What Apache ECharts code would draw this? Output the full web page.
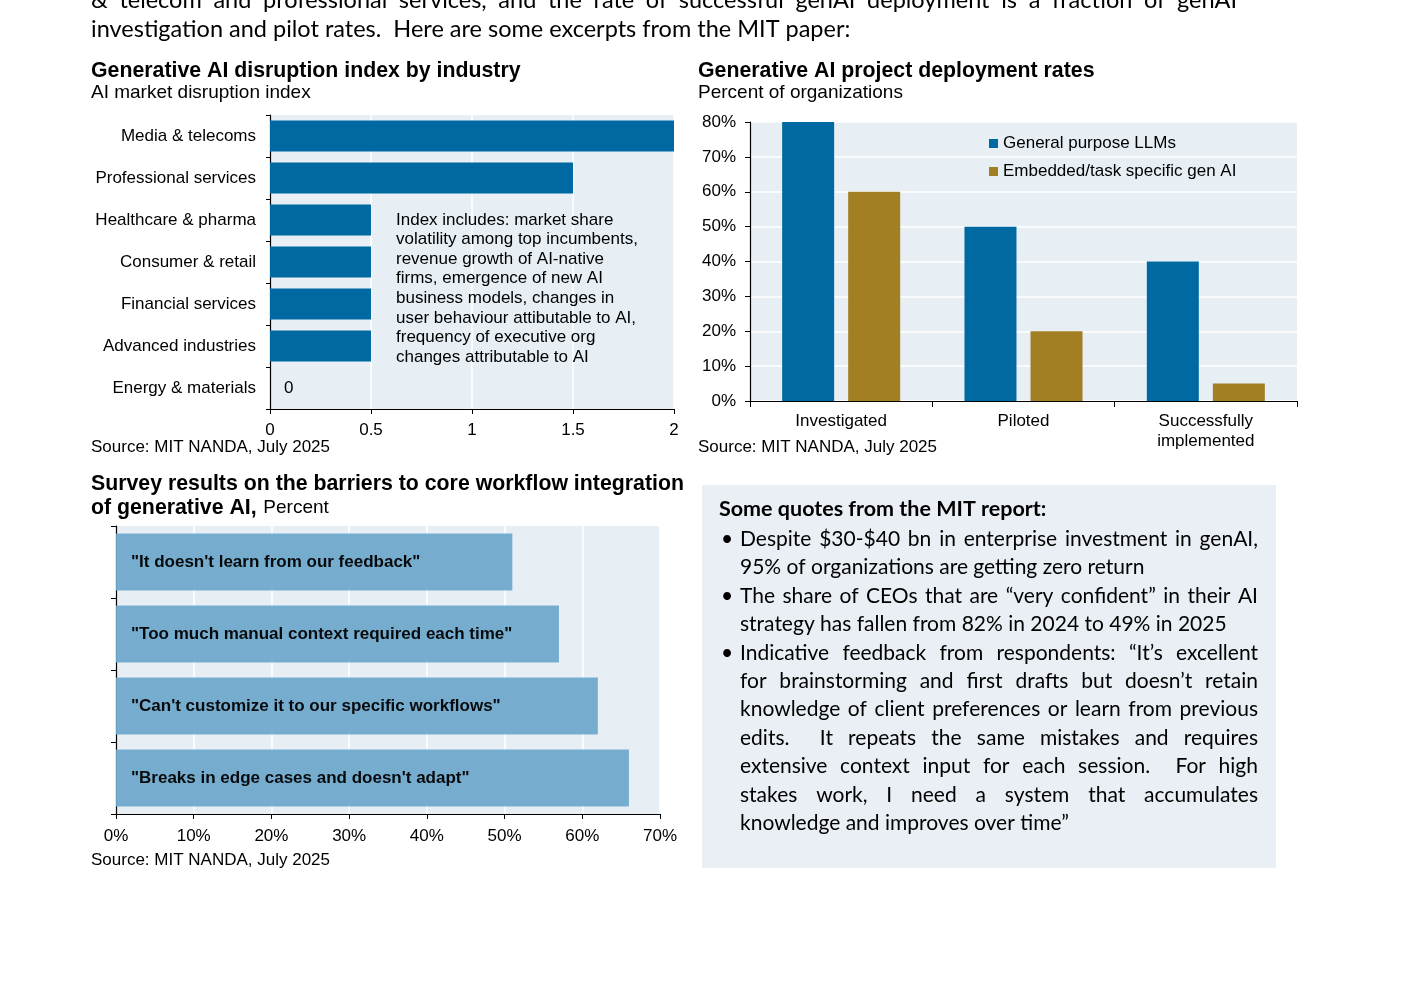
<!doctype html>
<html>
<head>
  <meta charset="utf-8">
  <script src="https://cdn.jsdelivr.net/npm/echarts@6/dist/echarts.min.js"></script>
  <style>
    html, body { margin: 0; padding: 0; background: #fff; }
    #chart { width: 1401px; height: 985px; }
  </style>
</head>
<body>
<div id="chart"></div>
<script type="text/javascript">
  // chart 1: disruption index by industry
  var industries = ['Media & telecoms', 'Professional services', 'Healthcare & pharma', 'Consumer & retail',
    'Financial services', 'Advanced industries', 'Energy & materials'];
  var disruptionIndex = [2, 1.5, 0.5, 0.5, 0.5, 0.5, 0];

  // chart 2: deployment rates
  var stages = ['Investigated', 'Piloted', 'Successfully\nimplemented'];
  var generalLLM = [80, 50, 40];
  var embeddedAI = [60, 20, 5];

  // chart 3: barriers survey
  var barriers = ['"It doesn\'t learn from our feedback"', '"Too much manual context required each time"',
    '"Can\'t customize it to our specific workflows"', '"Breaks in edge cases and doesn\'t adapt"'];
  var barrierPct = [51, 57, 62, 66];

  var ARIAL = '"Liberation Sans", Arial, sans-serif';
  var BODY = 'Lato, "Open Sans", sans-serif';
  var bg = '#e7eff5';
  var blue = '#0069a1';
  var gold = '#a37f24';
  var lightBlue = '#6fa9cc';

  var measureCtx = document.createElement('canvas').getContext('2d');
  function textWidth(s, font) {
    measureCtx.font = font;
    return measureCtx.measureText(s).width;
  }

  function txt(s, x, y, font, extra) {
    var el = { type: 'text', x: x, y: y, z: 100, style: { text: s, font: font, fill: '#000', verticalAlign: 'middle' } };
    if (extra) for (var k in extra) el.style[k] = extra[k];
    return el;
  }

  // word-style justified line: spread the words between x0 and x1
  function justify(line, x0, x1, y, font) {
    var words = line.split(' ');
    var widths = words.map(function (w) { return textWidth(w, font); });
    var total = widths.reduce(function (a, b) { return a + b; }, 0);
    var gap = (x1 - x0 - total) / (words.length - 1);
    var x = x0, out = [];
    for (var i = 0; i < words.length; i++) {
      if (words[i]) out.push(txt(words[i], x, y, font));
      x += widths[i] + gap;
    }
    return out;
  }

  var bodyFont = '23.5px ' + BODY;
  var quoteFont = '21px ' + BODY;
  var titleFont = 'bold 21.3px ' + ARIAL;
  var subFont = '19px ' + ARIAL;
  var smallFont = '17px ' + ARIAL;

  var graphics = [];
  graphics = graphics.concat(justify('& telecom and professional services, and the rate of successful genAI deployment is a fraction of genAI', 91, 1237, 0, bodyFont));
  graphics.push(txt('investigation and pilot rates.  Here are some excerpts from the MIT paper:', 91, 29, bodyFont));

  graphics.push(txt('Generative AI disruption index by industry', 91, 71, titleFont));
  graphics.push(txt('AI market disruption index', 91, 93, subFont));
  graphics.push(txt('Source: MIT NANDA, July 2025', 91, 447, smallFont));

  var noteLines = ['Index includes: market share', 'volatility among top incumbents,', 'revenue growth of AI-native',
    'firms, emergence of new AI', 'business models, changes in', 'user behaviour attibutable to AI,',
    'frequency of executive org', 'changes attributable to AI'];
  noteLines.forEach(function (l, i) { graphics.push(txt(l, 396, 220 + i * 19.6, smallFont)); });

  graphics.push(txt('Generative AI project deployment rates', 698, 71, titleFont));
  graphics.push(txt('Percent of organizations', 698, 93, subFont));
  graphics.push(txt('Source: MIT NANDA, July 2025', 698, 447, smallFont));

  graphics.push(txt('Survey results on the barriers to core workflow integration', 91, 484, titleFont));
  graphics.push({
    type: 'text', x: 91, y: 508, z: 100,
    style: {
      text: '{b|of generative AI,}  {n|Percent}', verticalAlign: 'middle', fill: '#000',
      rich: { b: { font: titleFont, fill: '#000' }, n: { font: subFont, fill: '#000' } }
    }
  });
  graphics.push(txt('Source: MIT NANDA, July 2025', 91, 860, smallFont));

  // quotes box
  graphics.push({ type: 'rect', shape: { x: 702, y: 485, width: 574, height: 383 }, style: { fill: '#e9eff4' }, z: -1 });
  graphics.push(txt('Some quotes from the MIT report:', 719, 509, 'bold 21.5px ' + BODY));
  var qy = [539, 567, 596, 624, 653, 681, 709, 738, 766, 795, 823];
  var quoteLines = [
    ['Despite $30-$40 bn in enterprise investment in genAI,', true, true],
    ['95% of organizations are getting zero return', false, false],
    ['The share of CEOs that are \u201cvery confident\u201d in their AI', true, true],
    ['strategy has fallen from 82% in 2024 to 49% in 2025', false, false],
    ['Indicative feedback from respondents: \u201cIt\u2019s excellent', true, true],
    ['for brainstorming and first drafts but doesn\u2019t retain', false, true],
    ['knowledge of client preferences or learn from previous', false, true],
    ['edits.  It repeats the same mistakes and requires', false, true],
    ['extensive context input for each session.  For high', false, true],
    ['stakes work, I need a system that accumulates', false, true],
    ['knowledge and improves over time\u201d', false, false]
  ];
  quoteLines.forEach(function (q, i) {
    if (q[1]) graphics.push(txt('\u2022', 721, qy[i], quoteFont));
    if (q[2]) graphics = graphics.concat(justify(q[0], 740, 1258, qy[i], quoteFont));
    else graphics.push(txt(q[0], 740, qy[i], quoteFont));
  });

  var axisBlack = { show: true, lineStyle: { color: '#000', width: 1.2 } };
  var labelStyle = { color: '#000', fontSize: 17, fontFamily: ARIAL };

  var myChart = echarts.init(document.getElementById('chart'));
  var option = {
    animation: false,
    backgroundColor: '#fff',
    textStyle: { fontFamily: ARIAL },
    graphic: graphics,
    legend: {
      data: ['General purpose LLMs', 'Embedded/task specific gen AI'],
      orient: 'vertical', left: 984, top: 130,
      icon: 'rect', itemWidth: 9, itemHeight: 9, itemGap: 11, itemTextGap: 3,
      textStyle: { color: '#000', fontSize: 17, fontFamily: ARIAL }
    },
    grid: [
      { left: 270, top: 115, width: 404, height: 294, show: true, backgroundColor: bg, borderWidth: 0 },
      { left: 750, top: 122, width: 547, height: 279, show: true, backgroundColor: bg, borderWidth: 0 },
      { left: 116, top: 526, width: 544, height: 288, show: true, backgroundColor: bg, borderWidth: 0 }
    ],
    xAxis: [
      {
        gridIndex: 0, type: 'value', min: 0, max: 2, interval: 0.5,
        axisLine: axisBlack, axisTick: { show: true, length: 5, lineStyle: { color: '#000' } },
        axisLabel: Object.assign({ margin: 13 }, labelStyle),
        splitLine: { show: true, lineStyle: { color: '#fff', width: 1.5 } }
      },
      {
        gridIndex: 1, type: 'category', data: stages,
        axisLine: axisBlack, axisTick: { show: true, length: 6, lineStyle: { color: '#000' } },
        axisLabel: Object.assign({ margin: 10, lineHeight: 20 }, labelStyle)
      },
      {
        gridIndex: 2, type: 'value', min: 0, max: 70, interval: 10,
        axisLine: axisBlack, axisTick: { show: true, length: 5, lineStyle: { color: '#000' } },
        axisLabel: Object.assign({ margin: 14, formatter: '{value}%' }, labelStyle),
        splitLine: { show: true, lineStyle: { color: '#fff', width: 1.5 } }
      }
    ],
    yAxis: [
      {
        gridIndex: 0, type: 'category', data: industries, inverse: true,
        axisLine: axisBlack, axisTick: { show: true, length: 4, lineStyle: { color: '#000' } },
        axisLabel: Object.assign({ margin: 14 }, labelStyle)
      },
      {
        gridIndex: 1, type: 'value', min: 0, max: 80, interval: 10,
        axisLine: axisBlack, axisTick: { show: true, length: 5, lineStyle: { color: '#000' } },
        axisLabel: Object.assign({ margin: 14, formatter: '{value}%' }, labelStyle),
        splitLine: { show: true, lineStyle: { color: '#fff', width: 1.5 } }
      },
      {
        gridIndex: 2, type: 'category', data: barriers, inverse: true,
        axisLine: axisBlack, axisTick: { show: true, length: 5, lineStyle: { color: '#000' } },
        axisLabel: { show: false }
      }
    ],
    series: [
      {
        type: 'bar', xAxisIndex: 0, yAxisIndex: 0, barWidth: 31,
        itemStyle: { color: blue },
        data: disruptionIndex.map(function (v) {
          return v === 0 ? { value: v, label: { show: true, position: 'right', distance: 14, color: '#000', fontSize: 17 } } : v;
        })
      },
      {
        name: 'General purpose LLMs', type: 'bar', xAxisIndex: 1, yAxisIndex: 1,
        barWidth: 52, barGap: '27%', itemStyle: { color: blue }, data: generalLLM
      },
      {
        name: 'Embedded/task specific gen AI', type: 'bar', xAxisIndex: 1, yAxisIndex: 1,
        barWidth: 52, barGap: '27%', itemStyle: { color: gold }, data: embeddedAI
      },
      {
        type: 'bar', xAxisIndex: 2, yAxisIndex: 2, barWidth: 57,
        itemStyle: { color: lightBlue, opacity: 0.94 },
        label: {
          show: true, position: 'insideLeft', distance: 15, color: '#000',
          fontSize: 17, fontWeight: 'bold', fontFamily: ARIAL,
          formatter: function (p) { return p.name; }
        },
        data: barrierPct
      }
    ]
  };
  myChart.setOption(option);
</script>
</body>
</html>
